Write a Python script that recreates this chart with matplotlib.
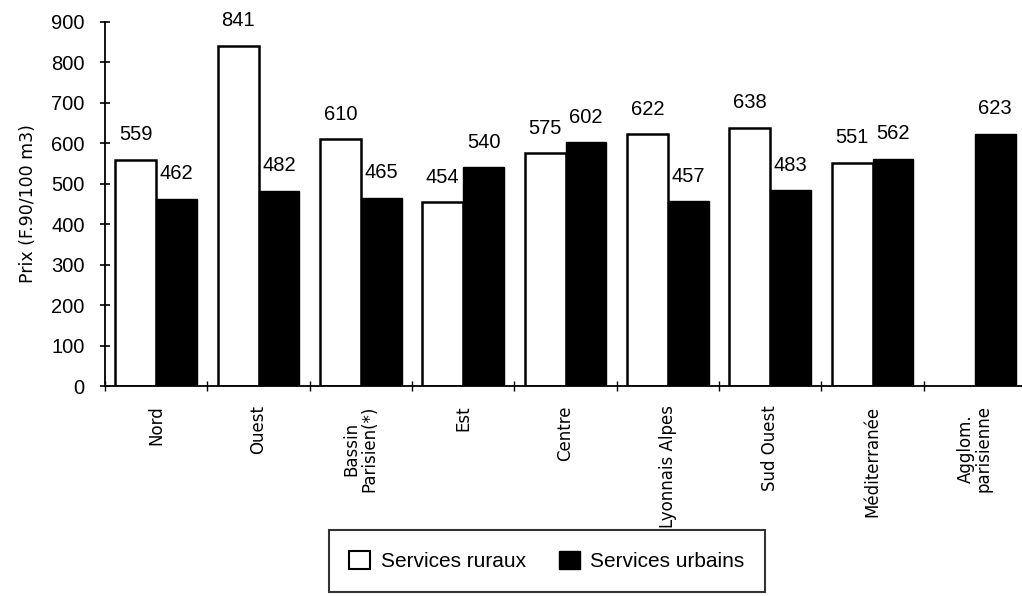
import matplotlib
matplotlib.use("Agg")
import matplotlib.pyplot as plt
from matplotlib import font_manager
from matplotlib.patches import Patch
import numpy as np

# data
regions = ["Nord", "Ouest", "Bassin\nParisien(*)", "Est", "Centre",
           "Lyonnais Alpes", "Sud Ouest", "Méditerranée", "Agglom.\nparisienne"]
rural = [559, 841, 610, 454, 575, 622, 638, 551, None]
urban = [462, 482, 465, 540, 602, 457, 483, 562, 623]
yticks = [0, 100, 200, 300, 400, 500, 600, 700, 800, 900]

names = {f.name for f in font_manager.fontManager.ttflist}
narrow = "Liberation Sans Narrow" if "Liberation Sans Narrow" in names else "DejaVu Sans"
plt.rcParams['font.family'] = ['Liberation Sans', 'DejaVu Sans']

fig = plt.figure(figsize=(10.22, 5.96), dpi=100)
ax = fig.add_axes([105 / 1022, 1 - 386 / 596, 921 / 1022, 364.3 / 596])

x = np.arange(len(regions))
w = 0.4
for i in range(len(regions)):
    if rural[i] is not None:
        ax.bar(x[i] - w / 2, rural[i], w, color='white', edgecolor='black', linewidth=1.8)
        ax.annotate(str(rural[i]), (x[i] - w / 2, rural[i]), xytext=(0, 18),
                    textcoords='offset points', ha='center', va='center', fontsize=14.5)
    ax.bar(x[i] + w / 2, urban[i], w, color='black', edgecolor='black', linewidth=1.0)
    ax.annotate(str(urban[i]), (x[i] + w / 2, urban[i]), xytext=(0, 18),
                textcoords='offset points', ha='center', va='center', fontsize=14.5)

ax.set_xlim(-0.5, len(regions) - 0.5)
ax.set_ylim(0, 900)
ax.set_yticks(yticks)
ax.tick_params(axis='y', direction='inout', length=7, width=1.2, labelsize=14.5, pad=11)

ax.set_xticks(x)
ax.set_xticklabels(regions, rotation=90, family=narrow, fontsize=12, va='top', ha='center',
                   linespacing=1.0)
ax.set_xticks(np.arange(len(regions)) - 0.5, minor=True)
ax.tick_params(axis='x', which='major', length=0, pad=14)
ax.tick_params(axis='x', which='minor', direction='inout', length=7, width=1.0)

for s in ['top', 'right']:
    ax.spines[s].set_visible(False)
for s in ['left', 'bottom']:
    ax.spines[s].set_linewidth(1.3)

ax.set_ylabel("Prix (F.90/100 m3)", family=narrow, fontsize=12.5, labelpad=10)

handles = [Patch(facecolor='white', edgecolor='black', linewidth=1.5),
           Patch(facecolor='black', edgecolor='black')]
leg = fig.legend(handles, ["Services ruraux", "Services urbains"], loc='upper center',
                 bbox_to_anchor=(547 / 1022, 1 - 530 / 596), ncol=2, fontsize=15,
                 frameon=True, fancybox=False, edgecolor='black', borderpad=1.0,
                 handlelength=1.0, handleheight=1.0, handletextpad=0.5,
                 columnspacing=1.6, borderaxespad=0)
leg.get_frame().set_linewidth(1.5)

fig.savefig("out.png", dpi=100)
